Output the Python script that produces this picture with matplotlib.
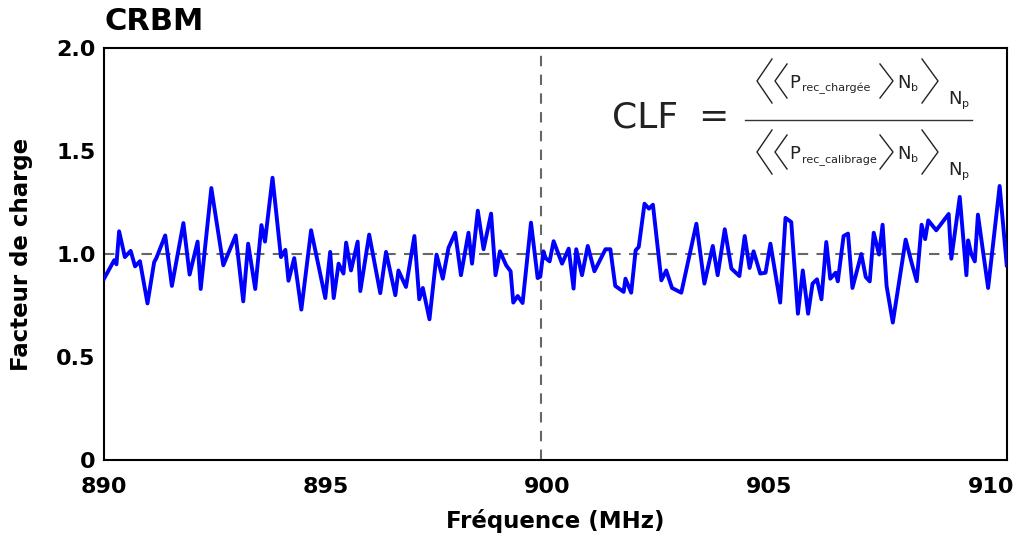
import matplotlib
matplotlib.use('Agg')
import matplotlib.pyplot as plt
from matplotlib.lines import Line2D

plt.rcParams['font.family'] = 'DejaVu Sans'

# frequency (MHz) and load factor
freq = [890.00, 890.23, 890.28, 890.34, 890.47, 890.60, 890.70, 890.81, 890.98, 891.13,
        891.18, 891.38, 891.53, 891.79, 891.93, 892.11, 892.18, 892.42, 892.69, 892.97,
        893.14, 893.25, 893.41, 893.55, 893.63, 893.80, 893.99, 894.09, 894.16, 894.29,
        894.45, 894.67, 894.99, 895.10, 895.18, 895.29, 895.40, 895.46, 895.57, 895.72,
        895.78, 895.98, 896.23, 896.36, 896.57, 896.64, 896.81, 897.00, 897.11, 897.19,
        897.34, 897.50, 897.64, 897.77, 897.92, 898.05, 898.22, 898.30, 898.43, 898.56,
        898.73, 898.83, 898.93, 899.07, 899.17, 899.23, 899.33, 899.44, 899.63, 899.78,
        899.84, 899.91, 899.96, 900.05, 900.14, 900.33, 900.48, 900.59, 900.65, 900.78,
        900.91, 901.06, 901.31, 901.42, 901.53, 901.72, 901.76, 901.89, 901.99, 902.06,
        902.19, 902.29, 902.38, 902.57, 902.68, 902.81, 903.02, 903.36, 903.54, 903.73,
        903.84, 904.00, 904.15, 904.33, 904.45, 904.56, 904.65, 904.80, 904.92, 905.03,
        905.25, 905.37, 905.50, 905.65, 905.76, 905.88, 905.98, 906.08, 906.18, 906.29,
        906.38, 906.50, 906.55, 906.68, 906.78, 906.88, 907.08, 907.18, 907.27, 907.36,
        907.48, 907.56, 907.65, 907.79, 908.08, 908.21, 908.33, 908.44, 908.52, 908.59,
        908.77, 909.05, 909.11, 909.30, 909.45, 909.49, 909.56, 909.64, 909.71, 909.94,
        910.20, 910.36]
clf = [0.88, 0.97, 0.95, 1.11, 0.985, 1.015, 0.94, 0.965, 0.76, 0.96,
       0.98, 1.09, 0.845, 1.15, 0.90, 1.06, 0.83, 1.32, 0.945, 1.09,
       0.77, 1.05, 0.83, 1.14, 1.06, 1.37, 0.985, 1.02, 0.87, 0.98,
       0.73, 1.115, 0.786, 1.01, 0.786, 0.953, 0.905, 1.055, 0.92, 1.06,
       0.82, 1.094, 0.81, 1.01, 0.80, 0.92, 0.84, 1.087, 0.78, 0.835,
       0.683, 0.997, 0.88, 1.03, 1.103, 0.897, 1.103, 0.953, 1.21, 1.023,
       1.196, 0.897, 1.013, 0.945, 0.916, 0.764, 0.796, 0.762, 1.152, 0.883,
       0.89, 1.013, 0.98, 0.964, 1.062, 0.953, 1.026, 0.832, 1.023, 0.897,
       1.039, 0.916, 1.023, 1.023, 0.845, 0.816, 0.88, 0.812, 1.018, 1.034,
       1.244, 1.22, 1.239, 0.872, 0.92, 0.835, 0.812, 1.147, 0.856, 1.039,
       0.897, 1.12, 0.929, 0.893, 1.087, 0.932, 1.013, 0.905, 0.909, 1.05,
       0.764, 1.175, 1.155, 0.71, 0.92, 0.71, 0.856, 0.877, 0.78, 1.058,
       0.88, 0.909, 0.867, 1.087, 1.099, 0.835, 1.0, 0.888, 0.867, 1.103,
       0.997, 1.142, 0.845, 0.667, 1.07, 0.961, 0.868, 1.142, 1.072, 1.163,
       1.115, 1.194, 0.977, 1.277, 0.897, 1.066, 1.0, 0.964, 1.191, 0.835,
       1.33, 0.945]

xticks = [890, 895, 900, 905, 910]
yticks = [0, 0.5, 1.0, 1.5, 2.0]
yticklabels = ['0', '0.5', '1.0', '1.5', '2.0']
subs = ['rec_chargée', 'rec_calibrage']

W, H = 1020, 539
fig = plt.figure(figsize=(W / 100, H / 100), dpi=100)
ax = fig.add_axes([0.102, 0.1466, 0.885, 0.7644])

ax.axhline(1.0, color='#666666', lw=1.5, ls=(0, (5, 4)), zorder=1)
ax.axvline(899.86, color='#666666', lw=1.5, ls=(0, (5, 4)), zorder=1)
ax.plot(freq, clf, color='#0000ff', lw=2.8, zorder=3)

ax.set_xlim(890, 910.36)
ax.set_ylim(0, 2.0)
ax.set_xticks(xticks)
ax.set_yticks(yticks)
ax.set_yticklabels(yticklabels)
ax.tick_params(axis='both', length=0, labelsize=16)
ax.tick_params(axis='x', pad=12)
ax.tick_params(axis='y', pad=6)
for lab in ax.get_xticklabels() + ax.get_yticklabels():
    lab.set_fontweight('bold')
for s in ax.spines.values():
    s.set_linewidth(1.5)

ax.set_title('CRBM', loc='left', fontsize=22, fontweight='bold', pad=13)
ax.set_xlabel('Fréquence (MHz)', fontsize=16.5, fontweight='bold')
ax.set_ylabel('Facteur de charge', fontsize=16.5, fontweight='bold')
ax.xaxis.set_label_coords(0.5, -0.118)
ax.yaxis.set_label_coords(-0.079, 0.5)

# formula (positions in pixels from top-left)
def fx(x):
    return x / W

def fy(y):
    return 1 - y / H

def chevron(x_end, x_tip, yc, half):
    fig.add_artist(Line2D([fx(x_end), fx(x_tip), fx(x_end)],
                          [fy(yc - half), fy(yc), fy(yc + half)],
                          transform=fig.transFigure, color='#222222', lw=1.0))

def txt(x, yb, s, size):
    fig.text(fx(x), fy(yb), s, fontsize=size, ha='left', va='baseline', color='#222222')

fig.text(fx(612), fy(117), 'CLF', fontsize=26, ha='left', va='center', color='#222222')
fig.text(fx(698), fy(117), '=', fontsize=26, ha='left', va='center', color='#222222')
fig.add_artist(Line2D([fx(745), fx(972)], [fy(119.5), fy(119.5)],
                      transform=fig.transFigure, color='#333333', lw=1.0))

for sub, yc in zip(subs, [81, 152]):
    chevron(772, 757, yc, 22)
    chevron(787, 775, yc, 17)
    txt(789, yc + 7, 'P', 13)
    txt(802, yc + 10, sub, 8)
    chevron(880, 893, yc, 17)
    txt(897, yc + 7, 'N', 13)
    txt(911, yc + 10, 'b', 8)
    chevron(922, 938, yc, 22)
    txt(948, yc + 23, 'N', 13)
    txt(962, yc + 26, 'p', 8)

fig.savefig('out.png', dpi=100)
